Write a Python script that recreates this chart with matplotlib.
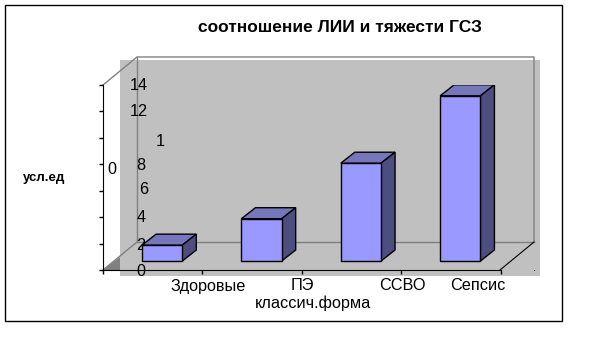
import matplotlib
matplotlib.use("Agg")
import matplotlib.pyplot as plt
from matplotlib.patches import Polygon, Rectangle
from matplotlib.transforms import Affine2D

W, H = 593, 359

categories = ["Здоровые", "ПЭ", "ССВО", "Сепсис"]
values = [1.2, 3.2, 7.4, 12.5]
y_ticks = [0, 2, 4, 6, 8, 10, 12, 14]
title = "соотношение ЛИИ и тяжести ГСЗ"
xlabel = "классич.форма"
ylabel = "усл.ед"

plt.rcParams["font.family"] = ["Liberation Sans", "DejaVu Sans"]

fig = plt.figure(figsize=(W / 100, H / 100), dpi=100, facecolor="white")

# фон и рамка, координаты в пикселях картинки
bg = fig.add_axes([0, 0, 1, 1])
bg.set_xlim(0, W)
bg.set_ylim(H, 0)
bg.axis("off")
bg.add_patch(Rectangle((4.5, 4.5), 557, 316.5, fc="white", ec="black", lw=1))
bg.add_patch(Rectangle((120, 60), 420, 216, fc="#c0c0c0", ec="none"))
bg.add_patch(Polygon([[103, 270], [120, 270], [120, 257]], fc="#808080", ec="none"))
bg.plot([103, 137, 534, 534], [85, 57, 57, 242], color="#808080", lw=1)
bg.plot([137, 137], [57, 242], color="#808080", lw=1)
bg.plot([137, 534], [242, 242], color="#808080", lw=1)
bg.plot([103, 137], [270, 242], color="#808080", lw=1)
bg.plot([500, 534], [270, 242], color="black", lw=0.8)
bg.plot([534], [270], marker="s", ms=0.7, mew=0, color="black")

# передняя плоскость диаграммы
ax = fig.add_axes([103 / W, 1 - 270 / H, 397.5 / W, 185 / H])
ax.patch.set_alpha(0)
ax.set_xlim(0, 4)
ax.set_ylim(0, 14)
for s in ["top", "right"]:
    ax.spines[s].set_visible(False)
ax.set_xticks(range(5))
ax.set_yticks(y_ticks)
ax.tick_params(labelbottom=False, labelleft=False, direction="out", width=1)
ax.tick_params(axis="x", length=3)
ax.tick_params(axis="y", length=3)

# сдвиг столбцов вглубь и глубина в пикселях
shift = ax.transData + Affine2D().translate(9.5, 9)
dx, dy = 14, 11
px = 4 / 397.5
py = 14 / 185
bar_w = 0.405
for i, v in enumerate(values):
    x0 = i + 0.5 - bar_w / 2
    x1 = x0 + bar_w
    ax.add_patch(Polygon([[x0, v], [x1, v], [x1 + dx * px, v + dy * py], [x0 + dx * px, v + dy * py]],
                         fc="#7676bb", ec="black", lw=1, transform=shift))
    ax.add_patch(Polygon([[x1, 0], [x1 + dx * px, dy * py], [x1 + dx * px, v + dy * py], [x1, v]],
                         fc="#4d4d80", ec="black", lw=1, transform=shift))
    ax.add_patch(Rectangle((x0, 0), bar_w, v, fc="#9999ff", ec="black", lw=1, transform=shift))

# подписи
fs = 11.7
bg.text(339.5, 28, title, fontsize=12.5, fontweight="bold", ha="center", va="center")
bg.text(44, 178, ylabel, fontsize=9.5, fontweight="bold", ha="center", va="center")
bg.text(312.5, 303, xlabel, fontsize=fs, ha="center", va="center")
for x, name in zip([208.5, 302, 402, 478], categories):
    bg.text(x, 286, name, fontsize=fs, ha="center", va="center")
for t, x, y in zip([0, 2, 4, 6, 8, 12, 14], [141, 141, 141, 144, 141, 139, 139], [271, 245, 218, 189, 165, 112, 85]):
    bg.text(x, y, str(t), fontsize=fs, ha="center", va="center")
# «10» в оригинале разорвано на две цифры
bg.text(160, 141, "1", fontsize=fs, ha="center", va="center")
bg.text(112, 169, "0", fontsize=fs, ha="center", va="center")

fig.savefig("out.png", dpi=100)
